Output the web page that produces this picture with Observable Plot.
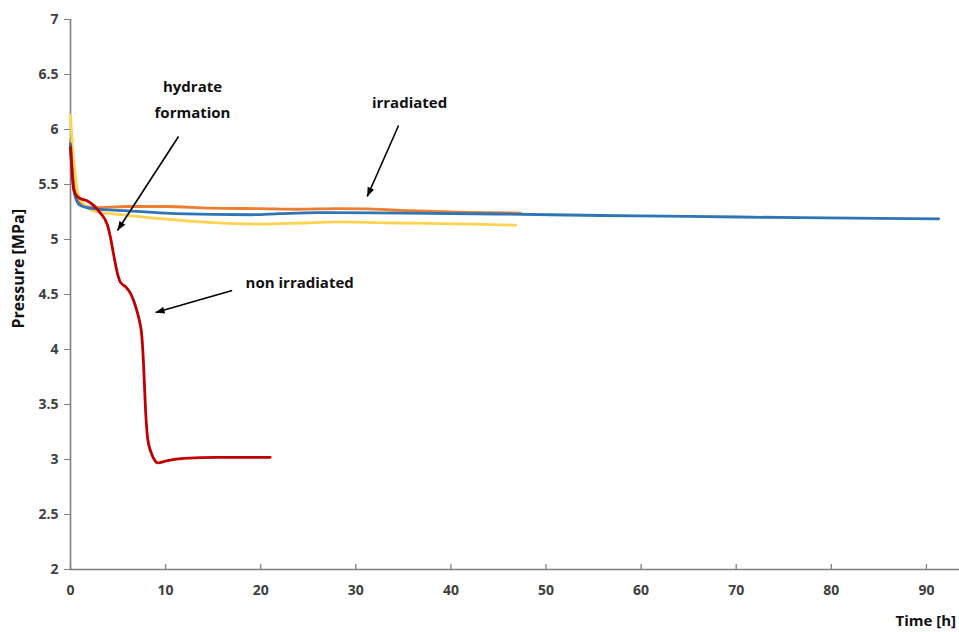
<!DOCTYPE html>
<html><head><meta charset="utf-8">
<script src="https://cdn.jsdelivr.net/npm/d3@7"></script>
<script src="https://cdn.jsdelivr.net/npm/@observablehq/plot@0.6"></script>
<style>body{margin:0;background:#fff;overflow:hidden}</style>
</head><body><div id="chart"></div>
<script>
// ---- data (time in hours, pressure in MPa) ----
const runAT = [0, 0.5, 1.0, 2.4, 6, 10, 14.7, 20, 24, 28, 31, 34.7, 40, 47.3];
const runAP = [5.9, 5.4, 5.33, 5.29, 5.30, 5.30, 5.285, 5.28, 5.275, 5.28, 5.278, 5.265, 5.25, 5.24];

const runBT = [0, 0.18, 0.53, 0.84, 2.4, 6, 9.5, 14.7, 20, 24.2, 28, 34.7, 42, 46.8];
const runBP = [6.13, 5.87, 5.56, 5.40, 5.26, 5.22, 5.19, 5.155, 5.14, 5.15, 5.16, 5.15, 5.14, 5.13];

const runCT = [0, 0.3, 0.53, 1.05, 2.4, 6, 10, 15, 19, 22, 26, 35, 45, 55.7, 65, 76.8, 85, 91.3];
const runCP = [5.87, 5.5, 5.38, 5.31, 5.28, 5.26, 5.24, 5.228, 5.225, 5.235, 5.245, 5.24, 5.232, 5.218, 5.21, 5.198, 5.192, 5.188];

const nonIrrT = [0, 0.35, 0.84, 1.79, 2.42, 3.15, 3.89, 4.2, 4.52, 4.94, 5.26, 5.8, 6.31, 6.7, 7.05, 7.3, 7.47, 7.6, 7.68, 7.89, 8.1, 8.41, 8.8, 9.15, 10.2, 11.9, 15.5, 21.0];
const nonIrrP = [5.84, 5.45, 5.38, 5.35, 5.31, 5.24, 5.13, 5.02, 4.87, 4.69, 4.61, 4.57, 4.51, 4.43, 4.33, 4.24, 4.15, 4.0, 3.87, 3.45, 3.2, 3.08, 3.0, 2.97, 2.99, 3.01, 3.02, 3.02];

const seriesNames = ["irradiated 1", "irradiated 2", "irradiated 3", "non irradiated"];
const seriesColors = ["#ed7d31", "#ffd34f", "#2e75b6", "#c00000"];

const xTicks = [0, 10, 20, 30, 40, 50, 60, 70, 80, 90];
const yTicks = [2, 2.5, 3, 3.5, 4, 4.5, 5, 5.5, 6, 6.5, 7];

// annotations (data coordinates)
const noteTexts = ["hydrate", "formation", "irradiated", "non irradiated"];
const noteT = [12.83, 12.83, 35.65, 24.1];
const noteP = [6.382, 6.145, 6.236, 4.60];
const arrowFrom = [[11.36, 5.936], [34.5, 6.036], [17.0, 4.536]];
const arrowTo = [[4.94, 5.082], [31.2, 5.391], [8.94, 4.336]];

// ---- build tables ----
const allT = [runAT, runBT, runCT, nonIrrT];
const allP = [runAP, runBP, runCP, nonIrrP];
const rows = seriesNames.flatMap((s, i) => allT[i].map((t, j) => ({series: s, t, p: allP[i][j]})));
const notes = noteTexts.map((text, i) => ({text, t: noteT[i], p: noteP[i]}));
const arrows = arrowFrom.map((f, i) => ({x1: f[0], y1: f[1], x2: arrowTo[i][0], y2: arrowTo[i][1]}));

function triMarker(color, context) {
  const doc = context.document;
  const m = doc.createElementNS("http://www.w3.org/2000/svg", "marker");
  m.setAttribute("viewBox", "-10 -5 10 10");
  m.setAttribute("markerUnits", "userSpaceOnUse");
  m.setAttribute("markerWidth", 10);
  m.setAttribute("markerHeight", 10);
  m.setAttribute("orient", "auto");
  const p = doc.createElementNS("http://www.w3.org/2000/svg", "path");
  p.setAttribute("d", "M-9,-3.5L0,0L-9,3.5Z");
  p.setAttribute("fill", "black");
  p.setAttribute("stroke", "none");
  m.appendChild(p);
  return m;
}

function build(useMarker) {
  const arrowMark = useMarker
    ? Plot.link(arrows, {x1: "x1", y1: "y1", x2: "x2", y2: "y2", stroke: "black", strokeWidth: 1.6, markerEnd: triMarker})
    : Plot.arrow(arrows, {x1: "x1", y1: "y1", x2: "x2", y2: "y2", stroke: "black", strokeWidth: 1.6, headLength: 9, headAngle: 45});
  return Plot.plot({
    width: 959,
    height: 632,
    marginTop: 19,
    marginBottom: 63,
    marginLeft: 70,
    marginRight: 0,
    style: {fontFamily: "Open Sans, sans-serif", fontSize: "14px", background: "white", overflow: "visible"},
    x: {domain: [0, 93.48]},
    y: {domain: [2, 7]},
    color: {type: "ordinal", domain: seriesNames, range: seriesColors},
    marks: [
      Plot.ruleX(xTicks, {x: d => d, y1: 2, y2: 2.045, stroke: "#7f7f7f", strokeWidth: 1.3}),
      Plot.axisX({ticks: xTicks, tickSize: 0, tickPadding: 16, label: null, fill: "#404040", fontWeight: "bold", fontSize: 14}),
      Plot.axisY({ticks: yTicks, tickSize: 6, tickPadding: 6, tickFormat: d => String(d), label: null, stroke: "#7f7f7f", fill: "#404040", fontWeight: "bold", fontSize: 14}),
      Plot.ruleX([0], {stroke: "#7f7f7f", strokeWidth: 1.6}),
      Plot.ruleY([2], {stroke: "#7f7f7f", strokeWidth: 1.6}),
      Plot.line(rows, {x: "t", y: "p", z: "series", stroke: "series", strokeWidth: 2.8, strokeLinejoin: "round", curve: "monotone-x"}),
      arrowMark,
      Plot.text(notes, {x: "t", y: "p", text: "text", fontWeight: "bold", fontSize: 15, fill: "#111"}),
      Plot.text(["Pressure [MPa]"], {frameAnchor: "left", dx: -52, dy: 34, rotate: -90, fontWeight: "bold", fontSize: 16, fill: "#111"}),
      Plot.text(["Time [h]"], {frameAnchor: "bottom-left", dx: 825, dy: 56, textAnchor: "start", fontWeight: "bold", fontSize: 15, fill: "#111"})
    ]
  });
}

let chart;
try { chart = build(true); } catch (e) { chart = build(false); }
document.getElementById("chart").appendChild(chart);
</script>
</body></html>
